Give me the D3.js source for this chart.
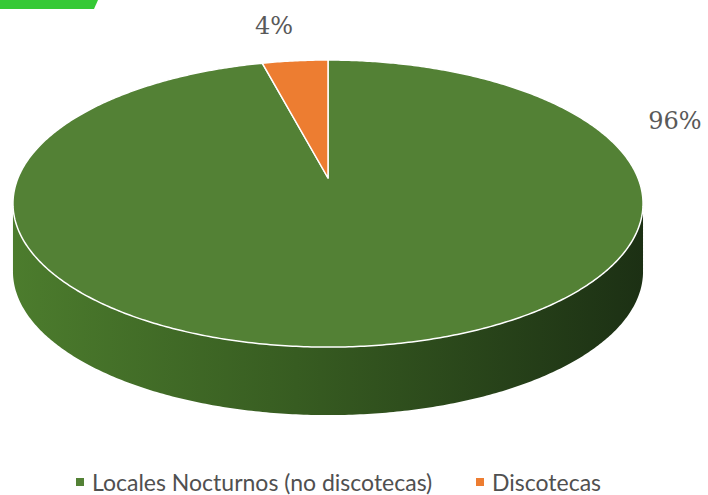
<!DOCTYPE html>
<html lang="es">
<head>
  <meta charset="UTF-8">
  <title>Locales Nocturnos vs Discotecas</title>
  <script src="https://d3js.org/d3.v7.min.js"></script>
  <style>
    body { margin: 0; background: #fff; }
    svg { display: block; }
  </style>
</head>
<body>
  <div id="chart"></div>
  <script>
    // Data
    const categories = ["Locales Nocturnos (no discotecas)", "Discotecas"];
    const values = [96, 4];
    const labels = ["96%", "4%"];
    const colors = ["#538135", "#ED7D31"];

    const width = 708, height = 495;
    const cx = 328, cy = 178;       // pie apex on screen
    const sx = 310, sy = 139;       // projected radii
    const k = -0.178;               // perspective factor
    const depth = 68;

    const svg = d3.select("#chart").append("svg")
      .attr("width", width)
      .attr("height", height);

    // green corner tab (cropped banner)
    svg.append("path")
      .attr("d", "M0,0 L98,0 L94,9 L0,9 Z")
      .attr("fill", "#35c935");

    // project a point on the unit disc (angle from top, clockwise)
    function proj(theta, r) {
      const u = r * Math.sin(theta), v = -r * Math.cos(theta);
      const w = 1 + k * v;
      return [cx + sx * u / w, cy + sy * v / w];
    }
    function rimPoints(a0, a1) {
      const n = Math.max(2, Math.ceil(Math.abs(a1 - a0) / 0.01));
      return d3.range(n + 1).map(i => proj(a0 + (a1 - a0) * i / n, 1));
    }

    const pie = d3.pie().sort(null).value(d => d)(values);

    const defs = svg.append("defs");
    const grad = defs.append("linearGradient")
      .attr("id", "side")
      .attr("x1", "0%").attr("x2", "100%").attr("y1", "0%").attr("y2", "0%");
    grad.append("stop").attr("offset", "0%").attr("stop-color", "#4c7c2d");
    grad.append("stop").attr("offset", "45%").attr("stop-color", "#375c21");
    grad.append("stop").attr("offset", "100%").attr("stop-color", "#1c3014");

    // side wall (front, visible part of the big slice)
    const tR = Math.acos(k), tL = 2 * Math.PI - Math.acos(k);
    const front = rimPoints(tR, tL);
    const lower = front.map(p => [p[0], p[1] + depth]).reverse();
    const line = d3.line();
    svg.append("path")
      .attr("d", line(front.concat(lower)) + "Z")
      .attr("fill", "url(#side)");

    // top faces
    svg.selectAll(".slice")
      .data(pie)
      .enter().append("path")
      .attr("class", "slice")
      .attr("d", d => line([[cx, cy]].concat(rimPoints(d.startAngle, d.endAngle))) + "Z")
      .attr("fill", (d, i) => colors[i])
      .attr("stroke", "#fff")
      .attr("stroke-width", 1.5)
      .attr("stroke-linejoin", "round");

    // data labels
    const labelPos = [[675, 129], [274, 34]];
    svg.selectAll(".lbl")
      .data(labels)
      .enter().append("text")
      .attr("x", (d, i) => labelPos[i][0])
      .attr("y", (d, i) => labelPos[i][1])
      .attr("text-anchor", "middle")
      .style("font-family", "'DejaVu Serif', serif")
      .style("font-size", "24px")
      .style("fill", "#595959")
      .text(d => d);

    // legend
    const legendX = [76, 476];
    const lg = svg.selectAll(".legend")
      .data(categories)
      .enter().append("g")
      .attr("transform", (d, i) => `translate(${legendX[i]},478)`);
    lg.append("rect")
      .attr("width", 8).attr("height", 8)
      .attr("fill", (d, i) => colors[i]);
    lg.append("text")
      .attr("x", 16).attr("y", 13)
      .style("font-family", "Lato, sans-serif")
      .style("font-size", "23px")
      .style("fill", "#505050")
      .text(d => d);
  </script>
</body>
</html>
